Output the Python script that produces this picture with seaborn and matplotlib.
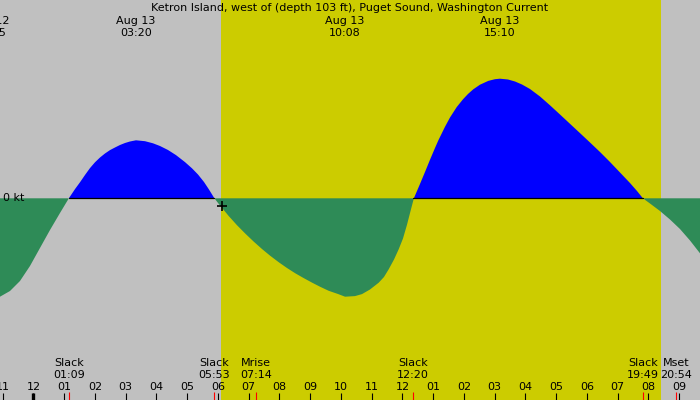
import matplotlib

matplotlib.use("Agg")
import matplotlib.pyplot as plt
import numpy as np
import pandas as pd
import seaborn as sns

TITLE = "Ketron Island, west of (depth 103 ft), Puget Sound, Washington Current"

# current: hours after midnight Aug 13, speed in knots (+ flood, - ebb)
hours = [
    -1.089, -0.764, -0.439, -0.114, 0.211, 0.537, 0.862, 1.150,
    1.350, 1.512, 1.675, 1.837, 2.000, 2.163, 2.325, 2.488, 2.650, 2.813, 2.976,
    3.138, 3.333, 3.626, 3.886, 4.114, 4.374, 4.634, 4.927, 5.154, 5.350, 5.545,
    5.707, 5.883,
    6.065, 6.348, 6.618, 6.888, 7.161, 7.431, 7.691, 7.974, 8.244, 8.514, 8.787,
    9.057, 9.317, 9.600, 9.902, 10.133, 10.455, 10.683, 10.943, 11.226, 11.398,
    11.551, 11.724, 11.876, 12.016, 12.146, 12.276, 12.370,
    12.569, 12.732, 12.894, 13.057, 13.164, 13.382, 13.545, 13.763, 13.967, 14.130,
    14.302, 14.520, 14.790, 15.008, 15.167, 15.431, 15.659, 15.886, 16.146, 16.472,
    16.797, 17.122, 17.447, 17.772, 18.098, 18.423, 18.748, 19.073, 19.398, 19.626,
    19.817,
    20.049, 20.374, 20.699, 21.024, 21.350, 21.675,
]
speed = [
    -0.984, -0.927, -0.827, -0.677, -0.497, -0.317, -0.147, 0.0,
    0.092, 0.160, 0.233, 0.302, 0.360, 0.408, 0.448, 0.482, 0.508, 0.533, 0.553,
    0.568, 0.580, 0.571, 0.550, 0.523, 0.483, 0.432, 0.362, 0.300, 0.238, 0.163,
    0.088, 0.0,
    -0.072, -0.177, -0.269, -0.353, -0.433, -0.507, -0.573, -0.639, -0.697, -0.750, -0.798,
    -0.843, -0.884, -0.925, -0.957, -0.984, -0.978, -0.958, -0.912, -0.844, -0.787,
    -0.710, -0.612, -0.510, -0.402, -0.265, -0.110, 0.0,
    0.143, 0.263, 0.385, 0.503, 0.578, 0.715, 0.808, 0.912, 0.990, 1.043,
    1.090, 1.136, 1.174, 1.191, 1.196, 1.188, 1.168, 1.138, 1.093, 1.018,
    0.930, 0.838, 0.745, 0.652, 0.558, 0.463, 0.363, 0.258, 0.153, 0.073,
    0.0,
    -0.052, -0.127, -0.212, -0.307, -0.422, -0.550,
]

# max flood / max ebb labels along the top
peak_dates = ["Aug 12", "Aug 13", "Aug 13", "Aug 13"]
peak_times = ["22:35", "03:20", "10:08", "15:10"]

# slack water and moon events along the bottom
event_names = ["Slack", "Slack", "Mrise", "Slack", "Slack", "Mset"]
event_times = ["01:09", "05:53", "07:14", "12:20", "19:49", "20:54"]

# flood periods (slack to slack)
flood_spans = [("01:09", "05:53"), ("12:20", "19:49")]

sunrise, sunset = "06:06", "20:25"
now_time, now_speed = "06:08", -0.08

tick_hours = list(range(-1, 22))
tick_labels = ["11", "12", "01", "02", "03", "04", "05", "06", "07", "08", "09", "10",
               "11", "12", "01", "02", "03", "04", "05", "06", "07", "08", "09"]

GRAY = "#c0c0c0"
DAY = "#cccc00"
FLOOD = "#0000ff"
EBB = "#2e8b57"


def to_hours(t, date="Aug 13"):
    hh, mm = t.split(":")
    h = int(hh) + int(mm) / 60
    return h - 24 if date == "Aug 12" else h


sns.set_style("white")
plt.rcParams["font.family"] = ["DejaVu Sans"]
plt.rcParams["text.color"] = "black"

fig = plt.figure(figsize=(7, 4), dpi=100)
ax = fig.add_axes([0, 0, 1, 1])
ax.set_facecolor(GRAY)
for s in ax.spines.values():
    s.set_visible(False)
ax.set_xticks([])
ax.set_yticks([])
ax.set_xlim(-1.089, 21.675)
ax.set_ylim(-2.017, 1.983)

ax.axvspan(to_hours(sunrise), to_hours(sunset), color=DAY, lw=0, zorder=0)

x = np.array(hours)
y = np.array(speed)
ax.fill_between(x, y, 0, where=y >= 0, interpolate=True, color=FLOOD, lw=0, zorder=2)
ax.fill_between(x, y, 0, where=y <= 0, interpolate=True, color=EBB, lw=0, zorder=2)

zero = pd.DataFrame(
    [{"hour": to_hours(t), "kt": 0.0, "span": i} for i, pair in enumerate(flood_spans) for t in pair]
)
sns.lineplot(data=zero, x="hour", y="kt", units="span", estimator=None,
             color="black", lw=0.9, ax=ax, legend=False, zorder=3)
ax.set_xlabel("")
ax.set_ylabel("")

ax.plot([to_hours(now_time)], [now_speed], marker="+", ms=7, mew=1.2,
        color="black", ls="none", zorder=4)

trans = ax.get_xaxis_transform()
fs = 8

# hour ticks
ax.vlines(tick_hours, 0, 0.018, transform=trans, colors="black", lw=0.8, zorder=4)
ax.vlines([0], 0, 0.018, transform=trans, colors="black", lw=2.4, zorder=4)
for h, lab in zip(tick_hours, tick_labels):
    ax.text(h, 0.025, lab, transform=trans, ha="center", va="baseline", fontsize=fs)

# event ticks and labels
ev_hours = [to_hours(t) for t in event_times]
ax.vlines(ev_hours, 0, 0.021, transform=trans, colors="red", lw=0.8, zorder=4)
for h, name, t in zip(ev_hours, event_names, event_times):
    ax.text(h, 0.085, name, transform=trans, ha="center", va="baseline", fontsize=fs)
    ax.text(h, 0.055, t, transform=trans, ha="center", va="baseline", fontsize=fs)

# peak labels
for d, t in zip(peak_dates, peak_times):
    h = to_hours(t, d)
    ax.text(h, 0.941, d, transform=trans, ha="center", va="baseline", fontsize=fs)
    ax.text(h, 0.91, t, transform=trans, ha="center", va="baseline", fontsize=fs)

ax.text(0.5, 0.9725, TITLE, transform=ax.transAxes, ha="center", va="baseline", fontsize=fs)
ax.text(0.004, 0.0, "0 kt", transform=ax.get_yaxis_transform(), ha="left",
        va="center", fontsize=fs)

fig.savefig("out.png", dpi=100)
plt.close(fig)
